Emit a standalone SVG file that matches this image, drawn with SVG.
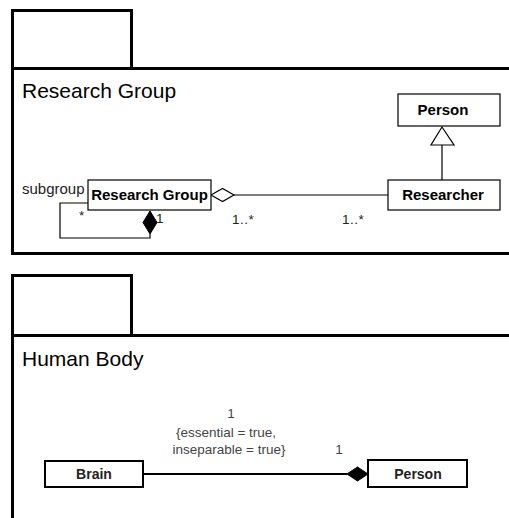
<svg xmlns="http://www.w3.org/2000/svg" width="509" height="518" viewBox="0 0 509 518">
<style>
.pkg{fill:none;stroke:#000;stroke-width:3}
.box{fill:#fff;stroke:#000;stroke-width:1.2}
.box2{fill:#fff;stroke:#000;stroke-width:2}
.title{font-family:"Liberation Sans",Arial,sans-serif;font-size:21px;fill:#000}
.cls{font-family:"Liberation Sans",Arial,sans-serif;font-size:15px;font-weight:bold;fill:#000;text-anchor:middle}
.cls2{font-family:"Liberation Sans",Arial,sans-serif;font-size:14px;font-weight:bold;fill:#222;text-anchor:middle}
.lbl{font-family:"Liberation Sans",Arial,sans-serif;font-size:13.5px;fill:#222}
.ann{font-family:"Liberation Sans",Arial,sans-serif;font-size:13.5px;fill:#444;text-anchor:middle}
.ln{fill:none;stroke:#000;stroke-width:1.2}
.ln2{fill:none;stroke:#000;stroke-width:2}
</style>
<rect width="509" height="518" fill="#fff"/>
<g id="pkg-research-group">
<path class="pkg" d="M12.5 68.5 V10.5 H131.5 V68.5"/>
<path class="pkg" d="M512 68.5 H12.5 V253.5 H512"/>
<text class="title" x="22" y="98">Research Group</text>
</g>
<g id="pkg-human-body">
<path class="pkg" d="M12.5 335.5 V275.5 H131.5 V335.5"/>
<path class="pkg" d="M512 335.5 H12.5 V520"/>
<text class="title" x="22" y="366">Human Body</text>
</g>
<g id="connectors">
<path class="ln" d="M442 145 V180"/>
<polygon points="442,127 431,145 454,145" fill="#fff" stroke="#000" stroke-width="1.2"/>
<path class="ln" d="M234 195 H388"/>
<polygon points="211,195 222.5,188.5 234,195 222.5,201.5" fill="#fff" stroke="#000" stroke-width="1.2"/>
<path class="ln" d="M88 203 H60 V238 H150 V234"/>
<polygon points="150,211 157,222.5 150,234 143,222.5" fill="#000" stroke="#000" stroke-width="1"/>
<text class="lbl" x="22" y="194" style="font-size:15px">subgroup</text>
<text class="lbl" x="79" y="220">*</text>
<text class="lbl" x="156" y="223">1</text>
<text class="lbl" x="232" y="224" style="letter-spacing:0.5px">1..*</text>
<text class="lbl" x="342" y="224" style="letter-spacing:0.5px">1..*</text>
<path class="ln2" d="M143 474 H347"/>
<polygon points="347,474 357.5,467 368,474 357.5,481" fill="#000" stroke="#000" stroke-width="1"/>
<text class="ann" x="231" y="418">1</text>
<text class="ann" x="226" y="437">{essential = true,</text>
<text class="ann" x="229" y="454">inseparable = true}</text>
<text class="ann" x="339" y="454">1</text>
</g>
<g id="node-person-top">
<rect class="box" x="398" y="94" width="102" height="32"/>
<text class="cls" x="443" y="115">Person</text>
</g>
<g id="node-researcher">
<rect class="box" x="388" y="180" width="112" height="30"/>
<text class="cls" x="443" y="200">Researcher</text>
</g>
<g id="node-research-group">
<rect class="box" x="88" y="180" width="123" height="30"/>
<text class="cls" x="149.5" y="200">Research Group</text>
</g>
<g id="node-brain">
<rect class="box2" x="45" y="461" width="98" height="26"/>
<text class="cls2" x="94" y="479">Brain</text>
</g>
<g id="node-person-bottom">
<rect class="box2" x="368" y="460" width="99" height="27"/>
<text class="cls2" x="418" y="479">Person</text>
</g>
</svg>
